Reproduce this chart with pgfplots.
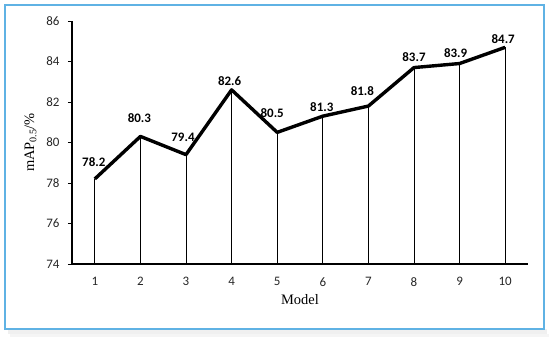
\documentclass[border=0pt]{standalone}
\usepackage{pgfplots}
\usepackage{pgfplotstable}
\pgfplotsset{compat=1.18}
\usepackage{fontspec}
\setmainfont{Liberation Serif}
\newfontfamily\calib{Carlito}
\definecolor{frameblue}{RGB}{95,178,228}
\pgfplotstableread{
x y dx dy
1 78.2 -1 17
2 80.3 -1 18
3 79.4 -3 17
4 82.6 -2 9
5 80.5 -5 19
6 81.3 -1 9
7 81.8 -6 15
8 83.7 0 10
9 83.9 -4 10
10 84.7 -2 8
}\data
\begin{document}
\begin{tikzpicture}
\path (-72bp,-78bp) rectangle (478bp,264bp);
\fill[black!6] (-64bp,-70bp) rectangle (475bp,-65bp);
\fill[black!4] (-62bp,-73bp) rectangle (477bp,-70bp);
\draw[line width=1.8bp, frameblue] (-67bp,-65bp) rectangle (472bp,259bp);
\begin{axis}[
  at={(0,0)}, anchor=south west,
  scale only axis, width=456bp, height=243bp,
  xmin=0.5, xmax=10.5, ymin=74, ymax=86,
  xtick={1,...,10}, ytick={74,76,...,86},
  axis lines*=left,
  axis line style={line width=1.1bp, black},
  tick align=outside,
  x tick style={draw=none},
  y tick style={line width=0.8bp, black},
  major tick length=4bp,
  /pgf/number format/assume math mode=true,
  tick label style={font=\calib\fontsize{13}{15}\selectfont, text=black!85},
  xticklabel style={yshift=-6bp},
  yticklabel style={xshift=-5bp},
  xlabel={Model},
  ylabel={mAP\textsubscript{0.5}/\%},
  label style={font=\fontsize{14.5}{16}\selectfont},
  xlabel style={yshift=-1bp},
  ylabel style={yshift=3bp},
  clip=false,
]
\addplot[ycomb, line width=0.8bp, black] table[x=x,y=y]{\data};
\addplot[line width=3.4bp, black, line join=round, mark=none,
  nodes near coords={\pgfmathprintnumber[fixed,precision=1,fixed zerofill]{\pgfplotspointmeta}},
  visualization depends on={\thisrow{dx}\as\dx},
  visualization depends on={\thisrow{dy}\as\dy},
  every node near coord/.append style={anchor=center, xshift=\dx bp, yshift=\dy bp,
    font=\calib\bfseries\fontsize{13}{15}\selectfont, text=black, inner sep=0pt},
  ] table[x=x,y=y]{\data};
\end{axis}
\end{tikzpicture}
\end{document}
